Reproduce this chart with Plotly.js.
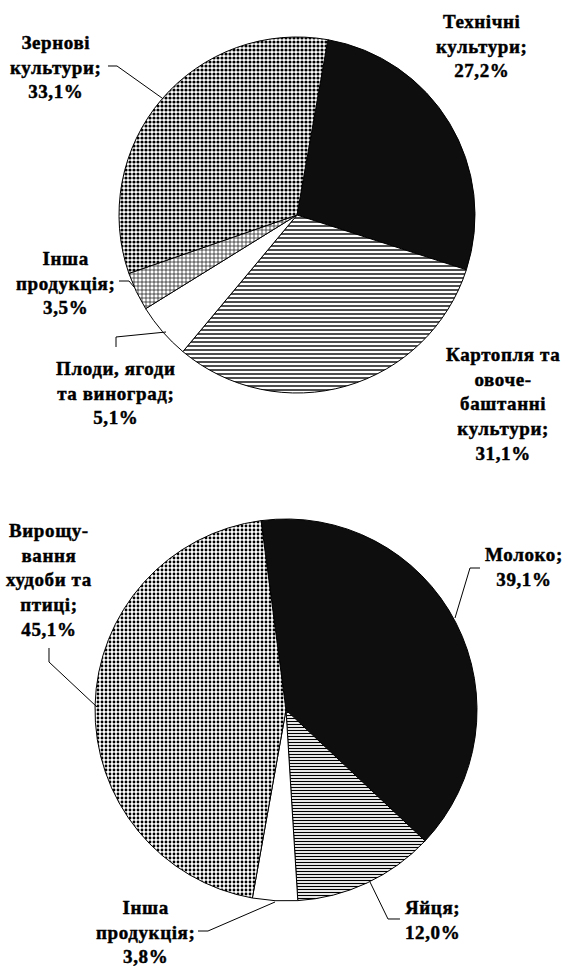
<!DOCTYPE html>
<html>
<head>
<meta charset="utf-8">
<script src="https://cdn.plot.ly/plotly-3.0.1.min.js"></script>
<style>
html, body { margin: 0; padding: 0; background: #fff; }
#chart { width: 570px; height: 968px; }
.annotation-text { letter-spacing: 0.6px; stroke: #000; stroke-width: 0.45px; }
</style>
</head>
<body>
<div id="chart"></div>
<script>
// ---- Data ----
const cropCategories = ["Технічні культури", "Картопля та овоче-баштанні культури", "Плоди, ягоди та виноград", "Інша продукція", "Зернові культури"];
const cropLabelLines = ["Технічні<br>культури", "Картопля та<br>овоче-<br>баштанні<br>культури", "Плоди, ягоди<br>та виноград", "Інша<br>продукція", "Зернові<br>культури"];
const cropShares = [27.2, 31.1, 5.1, 3.5, 33.1];

const livestockCategories = ["Молоко", "Яйця", "Інша продукція", "Вирощування худоби та птиці"];
const livestockLabelLines = ["Молоко", "Яйця", "Інша<br>продукція", "Вирощу-<br>вання<br>худоби та<br>птиці"];
const livestockShares = [39.1, 12.0, 3.8, 45.1];

// ---- Layout helpers (pixel -> paper) ----
const W = 570, H = 968;
const px = x => x / W;
const py = y => 1 - y / H;
const pct = v => v.toFixed(1).replace('.', ',') + '%';

const topPie = { cx: 297, cy: 215, r: 178 };
const botPie = { cx: 286, cy: 710, r: 191 };

function domainOf(p) {
  return { x: [px(p.cx - p.r), px(p.cx + p.r)], y: [py(p.cy + p.r), py(p.cy - p.r)] };
}

const traces = [
  {
    type: 'pie',
    labels: cropCategories,
    values: cropShares,
    sort: false,
    direction: 'clockwise',
    rotation: 10,
    domain: domainOf(topPie),
    textinfo: 'none',
    hoverinfo: 'none',
    showlegend: false,
    marker: {
      colors: ['#0e0e0e', '#ffffff', '#ffffff', '#ffffff', '#ffffff'],
      line: { color: '#000', width: 1 },
      pattern: {
        shape: ['', '-', '', '+', '.'],
        fgcolor: '#000',
        size: [8, 4, 8, 4, 4],
        solidity: [0.5, 0.35, 0.5, 0.3, 0.5]
      }
    }
  },
  {
    type: 'pie',
    labels: livestockCategories,
    values: livestockShares,
    sort: false,
    direction: 'clockwise',
    rotation: -7.5,
    domain: domainOf(botPie),
    textinfo: 'none',
    hoverinfo: 'none',
    showlegend: false,
    marker: {
      colors: ['#0e0e0e', '#ffffff', '#ffffff', '#ffffff'],
      line: { color: '#000', width: 1 },
      pattern: {
        shape: ['', '-', '', '.'],
        fgcolor: '#000',
        size: [8, 3, 8, 4],
        solidity: [0.5, 0.4, 0.5, 0.4]
      }
    }
  }
];

// label placement (pixel centers) — positions only, text from data
const cropLabelPos = [[482, 46], [503, 404], [116, 393], [65, 283], [56, 67]];
const livestockLabelPos = [[524, 567], [432, 920], [145, 932], [49, 580]];

const font = { family: '"Liberation Serif", "Times New Roman", serif', size: 19, color: '#000', weight: 700 };

const annotations = [];
cropLabelLines.forEach((t, i) => {
  annotations.push({
    xref: 'paper', yref: 'paper', x: px(cropLabelPos[i][0]), y: py(cropLabelPos[i][1]),
    xanchor: 'center', yanchor: 'middle', showarrow: false, align: 'center',
    text: '<b>' + t + ';<br>' + pct(cropShares[i]) + '</b>', font: font
  });
});
livestockLabelLines.forEach((t, i) => {
  annotations.push({
    xref: 'paper', yref: 'paper', x: px(livestockLabelPos[i][0]), y: py(livestockLabelPos[i][1]),
    xanchor: 'center', yanchor: 'middle', showarrow: false, align: 'center',
    text: '<b>' + t + ';<br>' + pct(livestockShares[i]) + '</b>', font: font
  });
});

// leader lines (pixel polylines)
const leaders = [
  [[108, 66], [117, 66], [162, 98]],
  [[119, 281], [129, 281], [134, 287]],
  [[116, 347], [116, 337], [166, 332]],
  [[49, 648], [49, 662], [97, 707]],
  [[480, 568], [470, 568], [455, 618]],
  [[198, 931], [208, 931], [275, 902]],
  [[400, 919], [388, 919], [370, 882]]
];
const shapes = leaders.map(pts => ({
  type: 'path', xref: 'paper', yref: 'paper',
  path: pts.map((p, k) => (k ? 'L' : 'M') + px(p[0]).toFixed(5) + ',' + py(p[1]).toFixed(5)).join(' '),
  line: { color: '#000', width: 1 }
}));

const layout = {
  width: W, height: H,
  margin: { l: 0, r: 0, t: 0, b: 0 },
  paper_bgcolor: '#fff',
  plot_bgcolor: '#fff',
  showlegend: false,
  annotations: annotations,
  shapes: shapes
};

Plotly.newPlot('chart', traces, layout, { staticPlot: true, displayModeBar: false });
</script>
</body>
</html>
